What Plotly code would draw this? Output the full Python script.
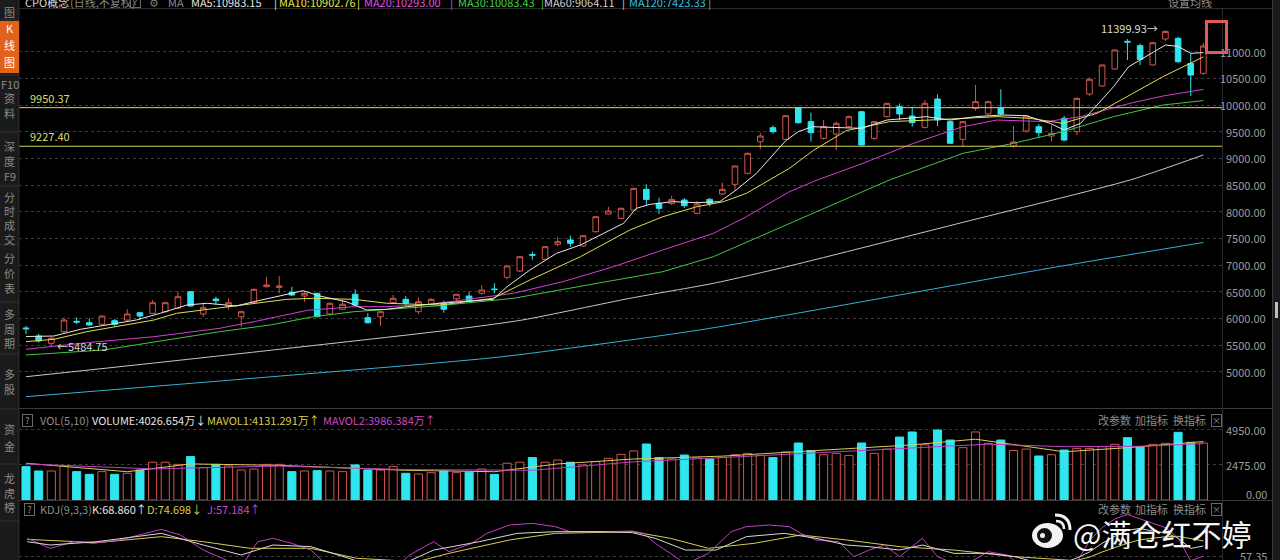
import plotly.graph_objects as go

W, H = 1280, 560
FONT = "Noto Sans CJK SC, Noto Sans, DejaVu Sans, sans-serif"

# ---------------- data ----------------
opens = [5820, 5670, 5532, 5750, 5945, 5919, 5889, 5956, 5969, 6106,
         6095, 6125, 6189, 6500, 6082, 6363, 6219, 6031, 6294, 6594,
         6581, 6489, 6419, 6470, 6082, 6170, 6451, 6013, 6031, 6294,
         6357, 6125, 6269, 6283, 6369, 6419, 6470, 6550, 6770, 6888,
         7195, 7108, 7389, 7469, 7357, 7625, 7956, 7875, 8031, 8419,
         8157, 8157, 8219, 7970, 8231, 8332, 8513, 8720, 9313, 9575,
         9357, 9950, 9688, 9376, 9457, 9594, 9875, 9376, 9782, 9969,
         9794, 9582, 10113, 9688, 9357, 9938, 9832, 9938, 9232, 9513,
         9594, 9419, 9751, 9500, 10207, 10357, 10676, 11195, 11113, 10751,
         11238, 11250, 10781, 10594]
highs = [5857, 5707, 5650, 6020, 6020, 6001, 6060, 5988, 6170, 6115,
         6344, 6310, 6500, 6510, 6294, 6406, 6375, 6150, 6560, 6781,
         6794, 6594, 6500, 6480, 6300, 6330, 6545, 6100, 6140, 6440,
         6420, 6390, 6380, 6331, 6460, 6500, 6620, 6657, 7000, 7170,
         7250, 7350, 7531, 7550, 7560, 7915, 8094, 8080, 8450, 8513,
         8263, 8300, 8257, 8200, 8260, 8544, 8870, 9110, 9481, 9620,
         9810, 9960, 9856, 9719, 9690, 9800, 9890, 9700, 10040, 10030,
         9969, 10094, 10200, 9700, 9700, 10376, 10080, 10295, 9607, 9810,
         9644, 9620, 9800, 10140, 10520, 10760, 11040, 11238, 11150, 11180,
         11399.93, 11280, 10969, 11163]
lows = [5707, 5544, 5484.75, 5707, 5894, 5857, 5880, 5857, 5938, 5969,
        6080, 6110, 6170, 6220, 6030, 6250, 6160, 5844, 6280, 6580,
        6470, 6420, 6312, 6020, 6060, 6160, 6230, 5900, 5860, 6280,
        6250, 6080, 6250, 6106, 6320, 6300, 6450, 6470, 6730, 6870,
        7100, 7090, 7350, 7340, 7340, 7610, 7950, 7860, 8020, 8125,
        7957, 8125, 8070, 7950, 8100, 8310, 8407, 8700, 9170, 9460,
        9340, 9650, 9313, 9350, 9157, 9580, 9240, 9340, 9770, 9720,
        9594, 9560, 9607, 9270, 9219, 9894, 9815, 9800, 9200, 9480,
        9382, 9320, 9320, 9440, 10170, 10340, 10660, 10844, 10750, 10740,
        11200, 10790, 10169, 10570]
closes = [5805, 5576, 5626, 5969, 5930, 5876, 6044, 5889, 6082, 6044,
          6294, 6294, 6406, 6232, 6200, 6331, 6294, 6125, 6545, 6625,
          6606, 6438, 6470, 6031, 6283, 6264, 6250, 5919, 6125, 6376,
          6283, 6313, 6357, 6170, 6451, 6331, 6531, 6540, 6982, 7156,
          7185, 7344, 7438, 7407, 7550, 7906, 8013, 8063, 8438, 8231,
          8063, 8231, 8113, 8145, 8157, 8419, 8857, 9095, 9419, 9500,
          9800, 9669, 9481, 9594, 9657, 9782, 9250, 9688, 10032, 9832,
          9669, 10032, 9719, 9283, 9688, 10063, 10063, 9832, 9307, 9794,
          9481, 9470, 9344, 10126, 10483, 10751, 11032, 11180, 10857, 11169,
          11380, 10813, 10563, 11106]
volumes = [2360, 2050, 2050, 2430, 2005, 1815, 2005, 1815, 1890, 2120,
           2670, 2670, 2520, 3070, 2290, 2520, 2410, 2120, 2190, 2520,
           2520, 2005, 2050, 2080, 2050, 2005, 2480, 2120, 2120, 2360,
           1890, 1840, 1930, 2050, 1930, 1960, 2190, 1815, 2600, 2670,
           3000, 2670, 2830, 2670, 2480, 2710, 2950, 3230, 3470, 3960,
           3000, 2900, 3180, 2970, 2900, 3000, 3200, 3300, 3150, 3000,
           3400, 4030, 3500, 3200, 3300, 3150, 4030, 3300, 3600, 4450,
           4810, 3900, 4950, 4240, 3700, 4810, 4000, 4240, 3500, 3600,
           3110, 3200, 3535, 3650, 3650, 3770, 3935, 4407, 3770, 3935,
           4006, 4784, 4077, 4026.654]

ma5_i = [0, 2.2, 4.3, 6.4, 8.7, 10.6, 12.7, 14.3, 16.6, 18.0, 20.1, 21.9, 23.2, 25.3, 26.9, 28.5,
         30.1, 32.7, 36.9, 38.0, 39.8, 41.9, 43.8, 45.6, 47.2, 48.2, 49.3, 51.1, 53.0, 54.8, 56.1,
         57.7, 59.0, 60.0, 61.0, 62.1, 66.0, 68.0, 71.1, 73.0, 75.0, 77.1, 79.0, 80.9, 82.0, 83.3,
         84.6, 85.9, 87.1, 88.0, 90.0, 91.0, 92.0, 93.0]
ma5_v = [5660, 5669, 5795, 5876, 5969, 6095, 6250, 6283, 6232, 6313, 6419, 6519, 6419, 6313, 6157, 6170,
         6219, 6283, 6357, 6594, 6906, 7219, 7376, 7594, 7782, 8063, 8138, 8188, 8169, 8188, 8407,
         8720, 9060, 9330, 9500, 9594, 9563, 9719, 9782, 9719, 9782, 9813, 9800, 9657, 9532, 9657,
         10000, 10344, 10719, 10844, 11125, 11100, 10969, 10983.15]
ma10_i = [0, 2.2, 4.8, 7.4, 10.1, 11.9, 14.3, 18.0, 20.6, 22.7, 25.9, 28.5, 32.7, 36.9, 39.8, 43.8,
          47.7, 50.3, 53.0, 55.1, 56.9, 60.3, 62.2, 64.8, 68.2, 71.4, 76.7, 79.3, 81.9, 84.6, 87.2,
          89.8, 93.0]
ma10_v = [5563, 5607, 5750, 5857, 5969, 6095, 6170, 6283, 6357, 6376, 6357, 6283, 6250, 6376, 6719, 7157,
          7657, 7906, 8094, 8188, 8344, 8813, 9150, 9520, 9688, 9719, 9782, 9751, 9657, 9845, 10188,
          10532, 10902.76]
ma20_i = [0, 4.8, 10.1, 12.7, 15.3, 18.0, 22.2, 25.9, 28.5, 31.9, 38.5, 42.4, 46.4, 50.3, 54.3, 56.9,
          60.3, 62.5, 66.1, 70.1, 74.0, 76.7, 80.6, 83.3, 87.2, 89.8, 93.0]
ma20_v = [5420, 5544, 5656, 5731, 5814, 5937, 6150, 6219, 6219, 6263, 6470, 6688, 6969, 7282, 7594, 7906,
          8375, 8594, 8907, 9282, 9594, 9719, 9688, 9782, 10032, 10169, 10293.00]
ma30_i = [0, 6.1, 15.3, 19.3, 22.7, 25.9, 32.3, 38.5, 45.1, 50.3, 54.3, 60.3, 68.2, 74.0, 78.0, 81.9,
          85.9, 89.8, 93.0]
ma30_v = [5313, 5406, 5750, 5876, 6031, 6125, 6230, 6376, 6657, 6875, 7157, 7782, 8594, 9094, 9282, 9500,
          9782, 10000, 10083.43]
ma60_i = [0, 10, 20, 32.7, 39.2, 47.7, 54.3, 60.3, 74.0, 87.2, 93.0]
ma60_v = [4906, 5160, 5420, 5760, 5969, 6376, 6657, 6982, 7800, 8594, 9064.11]
ma120_i = [0, 20.1, 37.4, 53.2, 69.0, 80.9, 93.0]
ma120_v = [4531, 4919, 5275, 5782, 6438, 6944, 7423.33]

mavol1_i = [0, 8, 13, 20, 30, 37, 42, 48, 55, 62, 70, 75, 80, 82, 87, 93]
mavol1_v = [2600, 2000, 2550, 2450, 2100, 2000, 2550, 2900, 3100, 3450, 3900, 4300, 3700, 3410, 3700, 4131.291]
mavol2_i = [0, 10, 20, 30, 40, 48, 55, 62, 70, 76, 82, 88, 93]
mavol2_v = [2550, 2200, 2400, 2150, 2100, 2700, 3000, 3300, 3650, 3950, 3770, 3800, 3986.384]

kdj_k_i = [0.1, 1.9, 5.6, 10.7, 14.0, 17.0, 19.5, 22.5, 25.5, 28.5, 32.2, 35.8, 38.8, 41.8, 45.5, 47.9,
           49.7, 52.1, 54.5, 56.9, 59.9, 62.4, 64.8, 66.6, 69.0, 70.8, 73.3, 76.0, 78.1, 81.1, 83.0,
           84.0, 85.0, 86.0, 87.0, 88.0, 89.0, 90.0, 91.0, 92.0, 93.0]
kdj_k_v = [73.8, 70.0, 73.8, 83.4, 70.0, 58.5, 70.0, 68.1, 54.7, 40.0, 64.2, 73.8, 83.4, 85.3, 85.3, 84.2,
           77.7, 64.2, 64.2, 79.6, 83.4, 77.7, 70.0, 68.1, 64.2, 70.0, 60.4, 60.4, 56.6, 45.0, 55.0,
           62.0, 72.0, 80.0, 87.0, 89.0, 86.0, 84.0, 78.0, 66.0, 68.860]
kdj_d_i = [0.1, 5.6, 10.7, 14.0, 17.7, 22.5, 26.1, 30.9, 33.4, 38.2, 41.8, 47.9, 50.9, 53.9, 57.5, 61.2,
           64.8, 69.0, 73.3, 78.1, 82.9, 84.0, 85.0, 86.0, 87.0, 88.0, 89.0, 90.0, 91.0, 92.0, 93.0]
kdj_d_v = [76.5, 72.7, 79.6, 73.8, 66.2, 66.2, 54.7, 50.8, 60.4, 75.8, 83.4, 85.3, 77.7, 66.2, 71.9, 81.5,
           75.8, 68.1, 64.2, 56.6, 52.0, 56.0, 62.0, 67.0, 72.0, 76.0, 78.0, 79.5, 80.0, 77.0, 74.698]
kdj_j_i = [0.1, 1.9, 3.8, 5.3, 7.4, 8.9, 10.7, 12.2, 14.0, 15.5, 17.0, 18.3, 19.5, 21.0, 22.5, 23.7,
           26.0, 28.5, 30.3, 32.2, 33.4, 35.2, 36.4, 38.2, 40.0, 41.8, 43.0, 45.5, 47.9, 48.8, 49.7,
           50.9, 52.1, 53.9, 55.7, 56.9, 58.7, 60.3, 61.2, 62.4, 64.2, 65.4, 66.6, 67.8, 69.0, 70.8,
           72.0, 73.9, 76.0, 77.5, 78.7, 81.1, 83.0, 84.0, 85.0, 86.0, 87.0, 88.0, 89.0, 90.0, 91.0,
           92.0, 93.0]
kdj_j_v = [77.7, 66.2, 73.8, 71.9, 75.8, 81.5, 88.0, 81.5, 64.2, 54.7, 45.0, 73.8, 77.7, 71.9, 64.2, 48.0,
           20.0, 35.0, 58.5, 73.8, 62.3, 71.9, 83.4, 93.0, 94.9, 91.1, 85.3, 85.3, 86.1, 83.4, 71.9,
           60.4, 48.0, 60.4, 85.3, 91.1, 93.0, 91.1, 83.4, 75.8, 73.8, 56.6, 64.2, 70.0, 56.6, 77.7,
           56.6, 45.0, 62.3, 58.5, 45.0, 30.0, 50.0, 75.0, 90.0, 100.0, 105.0, 100.0, 95.0, 90.0, 78.0,
           52.0, 57.184]

price_ticks = [5000, 5500, 6000, 6500, 7000, 7500, 8000, 8500, 9000, 9500, 10000, 10500, 11000]
vol_ticks = [2475, 4950]
kdj_ticks = [57.35]
support_levels = [9950.37, 9227.40]

# ---------------- helpers ----------------
def px(x):
    return x / W

def py(y):
    return 1 - y / H

RED = "#d0564e"
CYAN = "#2fe6ee"
GRID = "#3a3a3a"
idx = list(range(len(closes)))

fig = go.Figure()

fig.add_trace(go.Candlestick(
    x=idx, open=opens, high=highs, low=lows, close=closes,
    xaxis="x", yaxis="y", whiskerwidth=0, hoverinfo="skip",
    increasing=dict(line=dict(color=RED, width=1), fillcolor="#000000"),
    decreasing=dict(line=dict(color=CYAN, width=1), fillcolor=CYAN)))

ma_specs = [(ma120_i, ma120_v, "#36b2d6", "spline"), (ma60_i, ma60_v, "#c8c8c8", "spline"),
            (ma30_i, ma30_v, "#44c444", "linear"), (ma20_i, ma20_v, "#d040d0", "linear"),
            (ma10_i, ma10_v, "#dede4e", "linear"), (ma5_i, ma5_v, "#e8e8e8", "linear")]
for xi, yv, col, shp in ma_specs:
    fig.add_trace(go.Scatter(x=xi, y=yv, mode="lines", xaxis="x", yaxis="y", hoverinfo="skip",
                             line=dict(color=col, width=1, shape=shp, smoothing=0.6)))

up = [c >= o for o, c in zip(opens, closes)]
fig.add_trace(go.Bar(x=idx, y=volumes, xaxis="x2", yaxis="y2", width=0.64, hoverinfo="skip",
                     marker=dict(color=["#000000" if u else CYAN for u in up],
                                 line=dict(color=[RED if u else CYAN for u in up], width=1))))
fig.add_trace(go.Scatter(x=mavol1_i, y=mavol1_v, mode="lines", xaxis="x2", yaxis="y2", hoverinfo="skip",
                         line=dict(color="#d8cc5a", width=1)))
fig.add_trace(go.Scatter(x=mavol2_i, y=mavol2_v, mode="lines", xaxis="x2", yaxis="y2", hoverinfo="skip",
                         line=dict(color="#c040c0", width=1)))

for xi, yv, col in [(kdj_d_i, kdj_d_v, "#d8cc50"), (kdj_j_i, kdj_j_v, "#c040c0"), (kdj_k_i, kdj_k_v, "#d8d8d8")]:
    fig.add_trace(go.Scatter(x=xi, y=yv, mode="lines", xaxis="x3", yaxis="y3", hoverinfo="skip",
                             line=dict(color=col, width=1)))

XR = [-0.553, 94.47]
xdom = [px(19), px(1222)]
ax_common = dict(range=XR, domain=xdom, showgrid=False, zeroline=False, showticklabels=False,
                 showline=False, ticks="", fixedrange=True)

shapes = []
ann = []

def hline(y, x0, x1, color, width=1, dash="solid"):
    shapes.append(dict(type="line", xref="paper", yref="paper", x0=px(x0), x1=px(x1),
                       y0=py(y), y1=py(y), line=dict(color=color, width=width, dash=dash)))

def vline(x, y0, y1, color, width=1):
    shapes.append(dict(type="line", xref="paper", yref="paper", x0=px(x), x1=px(x),
                       y0=py(y0), y1=py(y1), line=dict(color=color, width=width)))

def rect(x0, y0, x1, y1, fill, line=None, lw=0, kind="rect"):
    shapes.append(dict(type=kind, xref="paper", yref="paper", x0=px(x0), x1=px(x1),
                       y0=py(y1), y1=py(y0), fillcolor=fill,
                       line=dict(color=line or fill, width=lw), layer="above"))

def text(x, y, s, color, size=11, xanchor="left", yanchor="middle", **kw):
    ann.append(dict(x=px(x), y=py(y), xref="paper", yref="paper", text=s, showarrow=False,
                    font=dict(color=color, size=size, family=FONT), xanchor=xanchor,
                    yanchor=yanchor, borderpad=0, **kw))

def qbox(x, y, s="?"):
    text(x, y, s, "#9a9a9a", size=9, xanchor="left", bordercolor="#6a6a6a", borderwidth=1,
         width=9, height=11)

# support lines
for lv in support_levels:
    shapes.append(dict(type="line", xref="paper", yref="y", x0=px(18), x1=px(1222), y0=lv, y1=lv,
                       line=dict(color="#d6d660", width=1)))
    ann.append(dict(x=px(28), y=lv, xref="paper", yref="y", text=f"{lv:.2f}", showarrow=False,
                    xanchor="left", yanchor="bottom", yshift=0,
                    font=dict(color="#dede70", size=11, family=FONT)))

# extreme labels
ann.append(dict(x=90 - 0.45, y=highs[90], xref="x", yref="y", text=f"{highs[90]:.2f}→", showarrow=False,
                xanchor="right", yanchor="middle", yshift=2, font=dict(color="#d8d8d8", size=11, family=FONT)))
ann.append(dict(x=2 + 0.3, y=lows[2], xref="x", yref="y", text=f"←{lows[2]:.2f}", showarrow=False,
                xanchor="left", yanchor="middle", font=dict(color="#d8d8d8", size=11, family=FONT)))

# panel separators / frame
hline(8.5, 19, 1280, "#2e2e2e")
hline(408.5, 19, 1272, "#3a3a3a")
hline(500.5, 19, 1272, "#3a3a3a")
vline(1222.5, 8, 560, "#2c2c2c")

# right axis labels
for t in price_ticks:
    ann.append(dict(x=px(1268), y=t, xref="paper", yref="y", text=f"{t:.2f}", showarrow=False,
                    xanchor="right", yanchor="middle", font=dict(color="#9c9c9c", size=11, family=FONT)))
for t in vol_ticks:
    ann.append(dict(x=px(1268), y=t, xref="paper", yref="y2", text=f"{t:.2f}", showarrow=False,
                    xanchor="right", yanchor="middle", font=dict(color="#9c9c9c", size=11, family=FONT)))
text(1268, 494, "0.00", "#9c9c9c", xanchor="right")
text(1268, 556, f"{kdj_ticks[0]:.2f}", "#9c9c9c", xanchor="right")

# scrollbar strip
rect(1272, 0, 1280, 560, "#1a1a1a")
vline(1272.5, 0, 560, "#383838")
rect(1275, 302, 1278, 318, "#bdbdbd")

# sidebar
rect(0, 0, 19, 560, "#1b1b1b")
vline(19, 0, 560, "#2e2e2e")
rect(0, 21, 19, 73, "#e2621b")
for sy in [20, 75, 132, 186, 245, 302, 354, 409, 464, 521]:
    hline(sy, 0, 19, "#303030")
side = [("图", 12), ("K", 28), ("线", 45), ("图", 62), ("F10", 84), ("资", 98), ("料", 113),
        ("深", 146), ("度", 161), ("F9", 176), ("分", 197), ("时", 211), ("成", 225), ("交", 239),
        ("分", 258), ("价", 273), ("表", 288), ("多", 314), ("周", 329), ("期", 343),
        ("多", 374), ("股", 389), ("资", 429), ("金", 446), ("龙", 478), ("虎", 493), ("榜", 507)]
for s, sy in side:
    col = "#ffffff" if 21 < sy < 73 else "#8a8a8a"
    text(9.5, sy, s, col, size=11, xanchor="center")

# header
hy = 2
text(24, hy, "CPO概念", "#d8d8d8")
text(69, hy, "(日线,不复权)", "#8a8a8a")
qbox(130, hy)
text(148, hy, "⚙", "#7a7a7a")
text(167, hy, "MA", "#8a8a8a")
hdr = [(190, "MA5:10983.15", "#e6e6e6"), (273, "|", "#e6e6e6"),
       (278, "MA10:10902.76", "#e6e64c"), (356, "|", "#e6e64c"),
       (363, "MA20:10293.00", "#e050e0"), (449, "|", "#e050e0"),
       (457, "MA30:10083.43", "#44d044"), (540, "|", "#44d044"),
       (543, "MA60:9064.11", "#d0d0d0"), (621, "|", "#d0d0d0"),
       (628, "MA120:7423.33 |", "#3cc0e0")]
for x, s, c in hdr:
    text(x, hy, s, c)
text(1167, hy, "设置均线", "#909090")

# volume header
vy = 420
qbox(22, vy)
text(39, vy, "VOL(5,10)", "#8c8c8c")
text(91, vy, "VOLUME:4026.654万↓", "#e4e4e4")
text(206, vy, "MAVOL1:4131.291万↑", "#d8cc50")
text(322, vy, "MAVOL2:3986.384万↑", "#c848c8")

# kdj header
ky = 509
qbox(24, ky)
text(39, ky, "KDJ(9,3,3)", "#8c8c8c")
text(91, ky, "K:68.860↑", "#e4e4e4")
text(146, ky, "D:74.698↓", "#d8cc50")
text(206, ky, "J:57.184↑", "#c848c8")

for yy in (vy, ky):
    text(1097, yy, "改参数", "#8c8c8c")
    text(1134, yy, "加指标", "#8c8c8c")
    text(1172, yy, "换指标", "#8c8c8c")
    qbox(1211, yy, "×")

# watermark (weibo logo + id)
rect(1032, 523, 1063, 548, "#f2f2f2", kind="circle")
rect(1037, 528, 1052, 543, "#111111", kind="circle")
rect(1040, 533, 1045, 538, "#f2f2f2", kind="circle")
def P(x, y):
    return f"{px(x):.5f},{py(y):.5f}"
shapes.append(dict(type="path", xref="paper", yref="paper",
                   path=f"M {P(1055, 515)} Q {P(1070, 515)} {P(1070, 530)}",
                   line=dict(color="#f2f2f2", width=3), layer="above"))
shapes.append(dict(type="path", xref="paper", yref="paper",
                   path=f"M {P(1056, 521)} Q {P(1064, 521)} {P(1064, 529)}",
                   line=dict(color="#f2f2f2", width=2.5), layer="above"))
text(1072, 533, "@满仓红不婷", "#f4f4f4", size=30)

# red box (drawn last so it sits on top)
ann.append(dict(x=px(1205), y=py(20), xref="paper", yref="paper", text=" ", showarrow=False,
                xanchor="left", yanchor="top", width=17, height=28, bordercolor="#e05a5a",
                borderwidth=3, borderpad=0, bgcolor="rgba(0,0,0,0)"))

fig.update_layout(
    width=W, height=H, margin=dict(l=0, r=0, t=0, b=0),
    paper_bgcolor="#000000", plot_bgcolor="#000000",
    showlegend=False, hovermode=False, boxgap=0.37,
    xaxis=dict(**ax_common, anchor="y", rangeslider=dict(visible=False)),
    xaxis2=dict(**ax_common, anchor="y2", matches="x"),
    xaxis3=dict(**ax_common, anchor="y3", matches="x"),
    yaxis=dict(domain=[py(408), py(9)], range=[4319.4, 11800.6], tickvals=price_ticks,
               showticklabels=False, showgrid=True, gridcolor=GRID, griddash="dot", gridwidth=1,
               zeroline=False, anchor="x", fixedrange=True),
    yaxis2=dict(domain=[py(500), py(409)], range=[0, 6434], tickvals=vol_ticks,
                showticklabels=False, showgrid=True, gridcolor=GRID, griddash="dot",
                zeroline=False, anchor="x2", fixedrange=True),
    yaxis3=dict(domain=[0, py(501)], range=[52.75, 120.6], tickvals=kdj_ticks,
                showticklabels=False, showgrid=True, gridcolor=GRID, griddash="dot",
                zeroline=False, anchor="x3", fixedrange=True),
    shapes=shapes, annotations=ann,
)

fig.write_html("out.html")
